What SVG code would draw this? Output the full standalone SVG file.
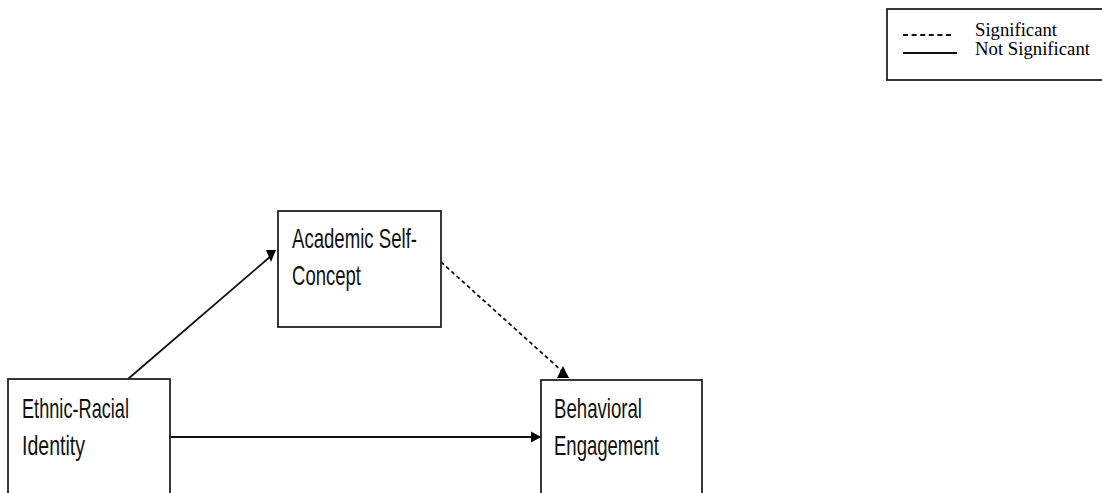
<svg xmlns="http://www.w3.org/2000/svg" width="1102" height="493" viewBox="0 0 1102 493">
<style>
.box{fill:#fff;stroke:#222;stroke-width:1.8}
.lbl{font-family:"Liberation Sans",Arial,sans-serif;font-size:28px;fill:#111}
.leg{font-family:"Liberation Serif","Times New Roman",serif;font-size:19px;fill:#000}
.conn{fill:none;stroke:#111;stroke-width:1.8}
.dash{stroke-dasharray:4 3}
</style>
<defs>
<marker id="ah-right" markerUnits="userSpaceOnUse" markerWidth="12" markerHeight="12" refX="10" refY="5.5" orient="0" overflow="visible"><path d="M0,0 L10,5.5 L0,11 Z" fill="#000"/></marker>
<marker id="ah-down" markerUnits="userSpaceOnUse" markerWidth="12" markerHeight="13" refX="5" refY="6" orient="0" overflow="visible"><path d="M0,0 L10,0 L5,12 Z" fill="#000"/></marker>
<marker id="ah-up" markerUnits="userSpaceOnUse" markerWidth="13" markerHeight="13" refX="6" refY="6" orient="0" overflow="visible"><path d="M0,12 L12,12 L6,0 Z" fill="#000"/></marker>
</defs>
<rect width="1102" height="493" fill="#fff"/>
<g id="connectors">
<path class="conn" d="M128,379 L271,256" marker-end="url(#ah-down)"/>
<path class="conn dash" d="M441,262 L563,372" marker-end="url(#ah-up)"/>
<path class="conn" d="M170,437 L541,437" marker-end="url(#ah-right)"/>
</g>
<g id="legend">
<rect class="box" x="887" y="9" width="230" height="71"/>
<line class="conn" x1="903" y1="35" x2="953" y2="35" stroke-dasharray="5 3.6" stroke-width="1.4"/>
<line class="conn" x1="903" y1="53" x2="957" y2="53" stroke-width="1.4"/>
<text class="leg" x="975" y="36" textLength="82" lengthAdjust="spacingAndGlyphs">Significant</text>
<text class="leg" x="975" y="55" textLength="115" lengthAdjust="spacingAndGlyphs">Not Significant</text>
</g>
<g id="academic">
<rect class="box" x="278" y="211" width="163" height="116"/>
<text class="lbl" x="292" y="248" textLength="125" lengthAdjust="spacingAndGlyphs">Academic Self-</text>
<text class="lbl" x="292" y="285" textLength="69" lengthAdjust="spacingAndGlyphs">Concept</text>
</g>
<g id="ethnic">
<rect class="box" x="8" y="379" width="162" height="130"/>
<text class="lbl" x="22" y="418" textLength="107" lengthAdjust="spacingAndGlyphs">Ethnic-Racial</text>
<text class="lbl" x="22" y="455" textLength="63" lengthAdjust="spacingAndGlyphs">Identity</text>
</g>
<g id="behavioral">
<rect class="box" x="541" y="380" width="161" height="130"/>
<text class="lbl" x="554" y="418" textLength="88" lengthAdjust="spacingAndGlyphs">Behavioral</text>
<text class="lbl" x="554" y="455" textLength="105" lengthAdjust="spacingAndGlyphs">Engagement</text>
</g>
</svg>
